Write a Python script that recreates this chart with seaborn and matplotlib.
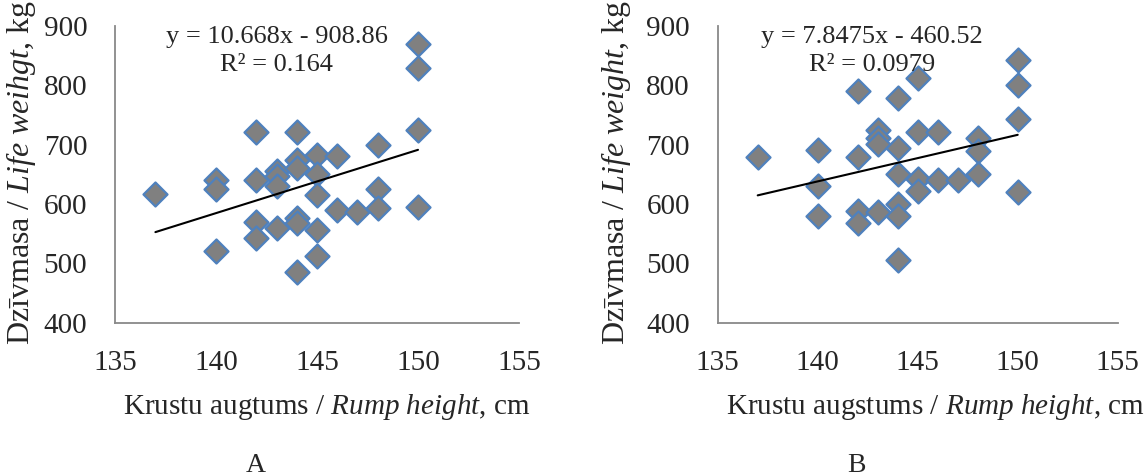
import numpy as np
import pandas as pd
import seaborn as sns
import matplotlib.pyplot as plt

# panel A: rump height (cm) vs live weight (kg)
height_a = [137, 140, 140, 140, 142, 142, 142, 142, 143, 143, 143, 143,
            144, 144, 144, 144, 144, 144, 145, 145, 145, 145, 145,
            146, 146, 147, 148, 148, 148, 150, 150, 150, 150]
weight_a = [617, 641, 625, 521, 721, 640, 570, 542, 656, 648, 631, 560,
            722, 675, 660, 576, 568, 485, 683, 651, 616, 557, 512,
            681, 590, 587, 699, 626, 594, 870, 829, 724, 595]
slope_a, intercept_a = 10.668, -908.86
eq_a = "y = 10.668x - 908.86\nR² = 0.164"

# panel B
height_b = [137, 140, 140, 140, 142, 142, 142, 142, 143, 143, 143, 143,
            144, 144, 144, 144, 144, 144, 145, 145, 145, 145,
            146, 146, 147, 148, 148, 148, 150, 150, 150, 150]
weight_b = [680, 691, 631, 579, 790, 680, 588, 568, 724, 711, 701, 587,
            778, 694, 650, 600, 579, 505, 812, 722, 643, 622,
            722, 640, 640, 712, 690, 650, 843, 800, 743, 621]
slope_b, intercept_b = 7.8475, -460.52
eq_b = "y = 7.8475x - 460.52\nR² = 0.0979"

x_ticks = [135, 140, 145, 150, 155]
y_ticks = [400, 500, 600, 700, 800, 900]

sns.set_style("white")
plt.rcParams["font.family"] = ["Liberation Serif", "DejaVu Serif"]
plt.rcParams["mathtext.fontset"] = "custom"
plt.rcParams["mathtext.it"] = "Liberation Serif:italic"
plt.rcParams["mathtext.rm"] = "Liberation Serif"

grey = "#898989"
fig = plt.figure(figsize=(11.47, 4.76), dpi=100)
ax_a = fig.add_axes([115 / 1147, 1 - 322.7 / 476, 404 / 1147, 296.7 / 476])
ax_b = fig.add_axes([717.7 / 1147, 1 - 322.7 / 476, 400 / 1147, 296.7 / 476])

panels = [
    (ax_a, height_a, weight_a, slope_a, intercept_a, eq_a,
     "Krustu augtums / $\\it{Rump\\ height}$, cm",
     "Dzīvmasa / $\\it{Life\\ weihgt}$, kg", "A",
     0.40, 0.525, -0.19, 0.349),
    (ax_b, height_b, weight_b, slope_b, intercept_b, eq_b,
     "Krustu augstums / $\\it{Rump\\ height}$, cm",
     "Dzīvmasa / $\\it{Life\\ weight}$, kg", "B",
     0.385, 0.543, -0.212, 0.348),
]

for ax, hx, wy, k, b, eq, xlab, ylab, tag, eq_x, xl_x, yl_x, tag_x in panels:
    df = pd.DataFrame({"height": hx, "weight": wy})
    sns.scatterplot(data=df, x="height", y="weight", ax=ax, marker="D",
                    s=150, color="#808080", edgecolor="#4f81bd",
                    linewidth=1.6, zorder=3)
    fit = pd.DataFrame({"height": [min(hx), max(hx)]})
    fit["weight"] = k * fit["height"] + b
    sns.lineplot(data=fit, x="height", y="weight", ax=ax, color="black",
                 linewidth=1.5, zorder=4)
    ax.set_xlim(135, 155)
    ax.set_ylim(400, 900)
    ax.set_xticks(x_ticks)
    ax.set_yticks(y_ticks)
    sns.despine(ax=ax)
    for side in ["left", "bottom"]:
        ax.spines[side].set_color(grey)
        ax.spines[side].set_linewidth(1.3)
    ax.tick_params(axis="both", direction="out", length=8, width=1.3,
                   color=grey, labelsize=21)
    ax.tick_params(axis="x", pad=12)
    ax.tick_params(axis="y", pad=12)
    ax.set_xlabel(xlab, fontsize=21)
    ax.set_ylabel(ylab, fontsize=23)
    ax.xaxis.set_label_coords(xl_x, -0.235)
    ax.yaxis.set_label_coords(yl_x, 0.505)
    ax.text(eq_x, 1.0, eq, transform=ax.transAxes, ha="center", va="top",
            fontsize=19, linespacing=1.38)
    ax.text(tag_x, -0.44, tag, transform=ax.transAxes, ha="center",
            va="top", fontsize=20)

fig.savefig("out.png", dpi=100)
